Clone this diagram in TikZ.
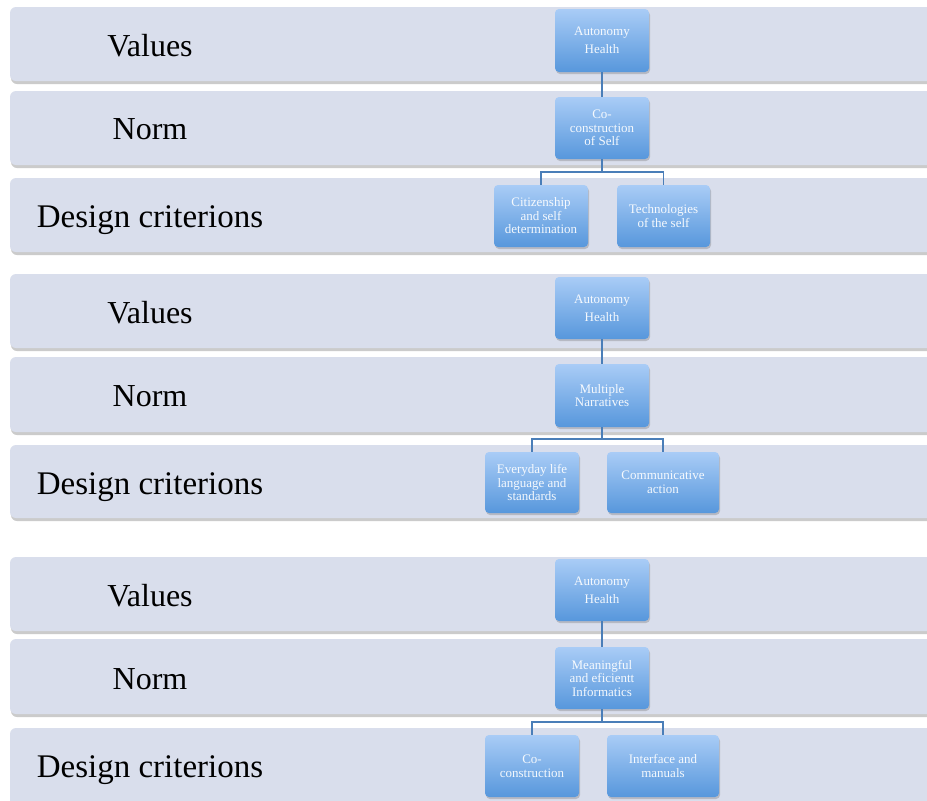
\documentclass[tikz,border=0pt]{standalone}
\usepackage{fontspec}
\setmainfont{Liberation Serif}
\usetikzlibrary{shadows,calc}
\definecolor{bandfill}{HTML}{D9DEEC}
\definecolor{boxtop}{HTML}{A9CCF6}
\definecolor{boxbot}{HTML}{5797DC}
\definecolor{connc}{HTML}{4A7EB8}
\tikzset{
  band/.style={fill=bandfill, rounded corners=6pt,
    drop shadow={shadow xshift=1pt, shadow yshift=-3pt, opacity=.45, fill=black!45}},
  lab/.style={anchor=base, font=\fontsize{32}{36}\selectfont, text=black},
  blk/.style={rounded corners=4pt, top color=boxtop, bottom color=boxbot,
    draw=none, minimum width=94pt, minimum height=62pt, align=center,
    inner sep=2pt, text=white, text opacity=.92,
    font=\fontsize{13}{13.5}\selectfont,
    drop shadow={shadow xshift=1pt, shadow yshift=-2pt, opacity=.3, fill=black!60}},
  conn/.style={draw=connc, line width=1.6pt},
}
\begin{document}
\begin{tikzpicture}[x=1pt,y=-1pt]
\clip (0,0) rectangle (927,801);
\fill[white] (0,0) rectangle (927,801);
% bands
\path[band] (10,7) rectangle (945,81);
\path[band] (10,91) rectangle (945,165);
\path[band] (10,178) rectangle (945,252);
\path[band] (10,274) rectangle (945,348);
\path[band] (10,357) rectangle (945,432);
\path[band] (10,445) rectangle (945,518);
\path[band] (10,557) rectangle (945,631);
\path[band] (10,639) rectangle (945,714);
\path[band] (10,728) rectangle (945,815);
% labels
\node[lab] (v1) at (150,56) {Values};
\node[lab] (n1) at (150,139) {Norm};
\node[lab] (dc1) at (150,227) {\fontsize{33}{36}\selectfont Design criterions};
\node[lab] (v2) at (150,323) {Values};
\node[lab] (n2) at (150,406) {Norm};
\node[lab] (dc2) at (150,494) {\fontsize{33}{36}\selectfont Design criterions};
\node[lab] (v3) at (150,606) {Values};
\node[lab] (n3) at (150,689) {Norm};
\node[lab] (dc3) at (150,777) {\fontsize{33}{36}\selectfont Design criterions};
% group 1
\node[blk, minimum height=63pt] (a1) at (602,40.5) {Autonomy\\[4.5pt]Health};
\node[blk] (b1) at (602,128) {Co-\\construction\\of Self};
\node[blk] (c1) at (541,216) {Citizenship\\and self\\determination};
\node[blk, minimum width=93pt] (d1) at (663.5,216) {Technologies\\of the self};
\draw[conn] (a1.south) -- (b1.north);
\draw[conn] (b1.south) -- ++(0,13) -| (c1.north);
\draw[conn] (b1.south) -- ++(0,13) -| (d1.north);
% group 2
\node[blk] (a2) at (602,308) {Autonomy\\[4.5pt]Health};
\node[blk, minimum height=63pt] (b2) at (602,395.5) {Multiple\\Narratives};
\node[blk, minimum height=61pt] (c2) at (532,482.5) {Everyday life\\language and\\standards};
\node[blk, minimum height=61pt, minimum width=112pt] (d2) at (663,482.5) {Communicative\\action};
\draw[conn] (a2.south) -- (b2.north);
\draw[conn] (b2.south) -- ++(0,12) -| (c2.north);
\draw[conn] (b2.south) -- ++(0,12) -| (d2.north);
% group 3
\node[blk] (a3) at (602,590) {Autonomy\\[4.5pt]Health};
\node[blk] (b3) at (602,678) {Meaningful\\and eficientt\\Informatics};
\node[blk] (c3) at (532,766) {Co-\\construction};
\node[blk, minimum width=112pt] (d3) at (663,766) {Interface and\\manuals};
\draw[conn] (a3.south) -- (b3.north);
\draw[conn] (b3.south) -- ++(0,13) -| (c3.north);
\draw[conn] (b3.south) -- ++(0,13) -| (d3.north);
\end{tikzpicture}
\end{document}
